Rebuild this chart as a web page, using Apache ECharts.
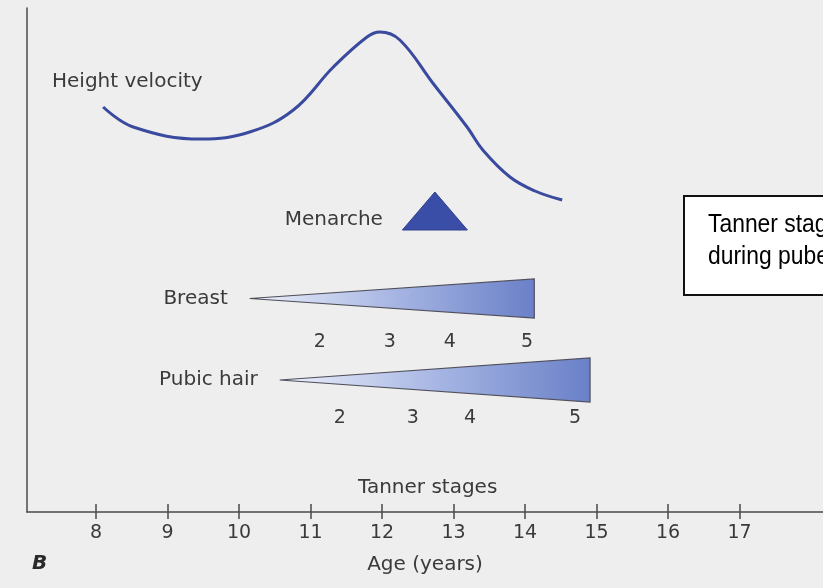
<!DOCTYPE html>
<html>
<head>
<meta charset="utf-8">
<script src="https://cdn.jsdelivr.net/npm/echarts@6/dist/echarts.min.js"></script>
<style>
  html, body { margin: 0; padding: 0; background: #eeeeee; }
  #chart { width: 823px; height: 588px; }
</style>
</head>
<body>
<div id="chart"></div>
<script>
// ages on the x axis
var ageTicks = [8, 9, 10, 11, 12, 13, 14, 15, 16, 17];

// height velocity curve (arbitrary units)
var velocityAge = [8.10, 8.52, 9.47, 10.15, 10.76, 11.32, 11.79, 11.97, 12.25, 12.71, 13.19, 13.41, 13.79, 14.14, 14.52];
var velocityValue = [405, 385, 373, 380, 402, 445, 475, 480, 472, 429, 385, 362, 335, 321, 312];

// tanner stage wedges
var stageNames = ['Breast', 'Pubic hair'];
var stageStart = [10.15, 10.57];
var stageEnd = [14.13, 14.91];
var stageLabels = ['2', '3', '4', '5'];
var breastStageAges = [11.13, 12.11, 12.95, 14.03];
var pubicStageAges = [11.41, 12.43, 13.23, 14.70];

var menarcheAge = 12.74;

// layout (pixel units on the y axis)
var rowY = [213.5, 132];
var rowHalf = [19.5, 22];
var numOffset = [44, 38];
var labelFont = '20px "DejaVu Sans", sans-serif';
var boxFont = '26px "Liberation Sans", Arial, sans-serif';
var textGrey = '#3a3a3a';

var chart = echarts.init(document.getElementById('chart'));

var wedgeFill = new echarts.graphic.LinearGradient(0, 0, 1, 0, [
  { offset: 0, color: '#eef2fb' },
  { offset: 0.5, color: '#a7b6e3' },
  { offset: 1, color: '#6a80c8' }
]);

var option = {
  backgroundColor: '#eeeeee',
  animation: false,
  grid: { left: 27, right: 0, top: 8, bottom: 76 },
  xAxis: [
    {
      type: 'value',
      min: 7.035,
      max: 18.168,
      axisLine: { show: true, onZero: false, lineStyle: { color: '#4a4a4a', width: 1.5 } },
      axisTick: { show: true, customValues: ageTicks, length: 7, lineStyle: { color: '#4a4a4a', width: 1.5 } },
      axisLabel: { customValues: ageTicks, margin: 12, color: textGrey, fontSize: 19, fontFamily: 'DejaVu Sans' },
      splitLine: { show: false },
      name: 'Age (years)',
      nameLocation: 'middle',
      nameGap: 43,
      nameTextStyle: { color: textGrey, fontSize: 20, fontFamily: 'DejaVu Sans' }
    },
    {
      type: 'value',
      min: 7.035,
      max: 18.168,
      position: 'bottom',
      axisLine: { show: false },
      axisTick: { show: true, inside: true, customValues: ageTicks, length: 8, lineStyle: { color: '#4a4a4a', width: 1.5 } },
      axisLabel: { show: false },
      splitLine: { show: false }
    }
  ],
  yAxis: {
    type: 'value',
    min: 0,
    max: 504,
    axisLine: { show: true, lineStyle: { color: '#4a4a4a', width: 1.5 } },
    axisTick: { show: false },
    axisLabel: { show: false },
    splitLine: { show: false }
  },
  series: [
    {
      name: 'Height velocity',
      type: 'line',
      smooth: 0.4,
      symbol: 'none',
      data: velocityAge.map(function (a, i) { return [a, velocityValue[i]]; }),
      lineStyle: { color: '#3a4a9e', width: 3 }
    },
    {
      type: 'custom',
      clip: false,
      encode: { x: [0, 1], y: 2 },
      data: stageNames.map(function (n, i) { return [stageStart[i], stageEnd[i], rowY[i], i]; }),
      renderItem: function (params, api) {
        var i = api.value(3);
        var s = api.coord([api.value(0), api.value(2)]);
        var e = api.coord([api.value(1), api.value(2)]);
        var h = rowHalf[i];
        return {
          type: 'group',
          children: [
            {
              type: 'polygon',
              shape: { points: [[s[0], s[1]], [e[0], e[1] - h], [e[0], e[1] + h]] },
              style: { fill: wedgeFill, stroke: '#50505c', lineWidth: 1.2 }
            },
            {
              type: 'text',
              style: { text: stageNames[i], x: s[0] - 22, y: s[1], align: 'right', verticalAlign: 'middle', font: labelFont, fill: textGrey }
            }
          ]
        };
      }
    },
    {
      type: 'custom',
      clip: false,
      encode: { x: 0, y: 1 },
      data: breastStageAges.map(function (a, i) { return [a, rowY[0], 0, i]; })
        .concat(pubicStageAges.map(function (a, i) { return [a, rowY[1], 1, i]; })),
      renderItem: function (params, api) {
        var p = api.coord([api.value(0), api.value(1)]);
        return {
          type: 'text',
          style: {
            text: stageLabels[api.value(3)],
            x: p[0], y: p[1] + numOffset[api.value(2)],
            align: 'center', verticalAlign: 'middle', font: '19px "DejaVu Sans", sans-serif', fill: textGrey
          }
        };
      }
    },
    {
      type: 'custom',
      clip: false,
      encode: { x: 0, y: 1 },
      data: [[menarcheAge, 282]],
      renderItem: function (params, api) {
        var p = api.coord([api.value(0), api.value(1)]);
        return {
          type: 'group',
          children: [
            {
              type: 'polygon',
              shape: { points: [[p[0], p[1] - 38], [p[0] - 32.5, p[1]], [p[0] + 32.5, p[1]]] },
              style: { fill: '#3a4ea8', stroke: '#2e3f8c', lineWidth: 1 }
            },
            {
              type: 'text',
              style: { text: 'Menarche', x: p[0] - 52, y: p[1] - 10, align: 'right', verticalAlign: 'middle', font: labelFont, fill: textGrey }
            }
          ]
        };
      }
    }
  ],
  graphic: [
    { type: 'text', left: 52, top: 72, style: { text: 'Height velocity', font: labelFont, fill: textGrey } },
    { type: 'text', left: 358, top: 478, style: { text: 'Tanner stages', font: labelFont, fill: textGrey } },
    { type: 'text', left: 32, top: 554, style: { text: 'B', font: 'italic bold 20px "DejaVu Sans", sans-serif', fill: '#2a2a2a' } },
    {
      type: 'rect',
      shape: { x: 684, y: 196, width: 200, height: 99 },
      style: { fill: '#ffffff', stroke: '#111111', lineWidth: 2 }
    },
    { type: 'text', x: 708, y: 225, scaleX: 0.88, style: { text: 'Tanner stages', x: 0, y: 0, font: boxFont, fill: '#000', verticalAlign: 'middle' } },
    { type: 'text', x: 708, y: 257, scaleX: 0.88, style: { text: 'during puberty', x: 0, y: 0, font: boxFont, fill: '#000', verticalAlign: 'middle' } }
  ]
};

chart.setOption(option);
</script>
</body>
</html>
